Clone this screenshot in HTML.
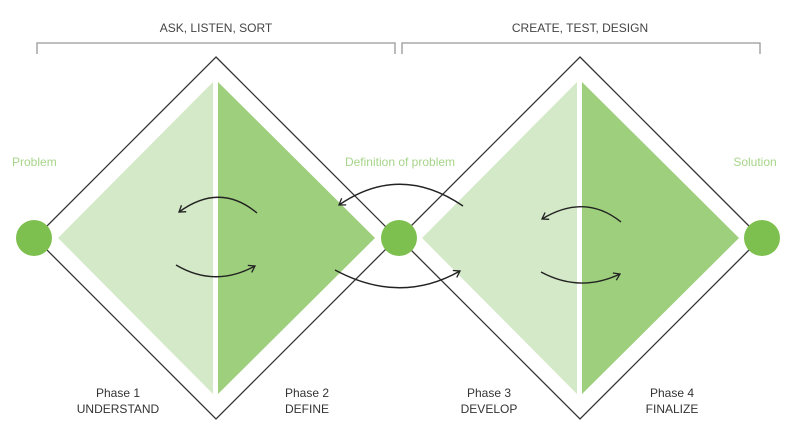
<!DOCTYPE html>
<html><head><meta charset="utf-8"><style>
html,body{margin:0;padding:0;background:#fff;}
svg{display:block;font-family:"Liberation Sans",sans-serif;}
</style></head><body>
<svg width="800" height="445" viewBox="0 0 800 445">
<defs><marker id="ah" markerWidth="10" markerHeight="10" refX="7" refY="5" orient="auto" markerUnits="userSpaceOnUse"><path d="M1,1 L7,5 L1,9" fill="none" stroke="#222" stroke-width="1.3"/></marker></defs>
<g fill="none" stroke="#999" stroke-width="1.3">
<path d="M37,54 V43 H395 V54"/>
<path d="M402,54 V43 H760 V54"/>
</g>
<text x="216" y="32" font-size="12" fill="#444" text-anchor="middle">ASK, LISTEN, SORT</text>
<text x="580" y="32" font-size="12" fill="#444" text-anchor="middle">CREATE, TEST, DESIGN</text>
<g>
<polygon points="216,57 397,238 216,419 35,238" fill="none" stroke="#333" stroke-width="1.3"/>
<polygon points="213,82 213,394 58,238" fill="#d4e9c7"/>
<polygon points="218,82 375,238 218,394" fill="#9dcf7c"/>
</g>
<g>
<polygon points="580,57 761,238 580,419 399,238" fill="none" stroke="#333" stroke-width="1.3"/>
<polygon points="577,82 577,394 422,238" fill="#d4e9c7"/>
<polygon points="582,82 739,238 582,394" fill="#9dcf7c"/>
</g>
<g fill="#7dc04f">
<circle cx="34" cy="238" r="18"/>
<circle cx="399" cy="238" r="18"/>
<circle cx="762" cy="238" r="18"/>
</g>
<g fill="none" stroke="#222" stroke-width="1.4" marker-end="url(#ah)">
<path d="M257,213 Q220,182 179,212"/>
<path d="M176,265 Q215,288 255,266"/>
<path d="M463,206 Q400,163 339,205"/>
<path d="M335,270 Q400,305 460,271"/>
<path d="M621,222 Q585,193 542,219"/>
<path d="M541,272 Q580,293 620,274"/>
</g>
<g font-size="12" fill="#a6d48a">
<text x="12" y="166">Problem</text>
<text x="400" y="166" text-anchor="middle">Definition of problem</text>
<text x="755" y="166" text-anchor="middle">Solution</text>
</g>
<g font-size="12" fill="#333" text-anchor="middle">
<text x="118" y="397"><tspan x="118">Phase 1</tspan><tspan x="118" dy="16">UNDERSTAND</tspan></text>
<text x="307" y="397"><tspan x="307">Phase 2</tspan><tspan x="307" dy="16">DEFINE</tspan></text>
<text x="489" y="397"><tspan x="489">Phase 3</tspan><tspan x="489" dy="16">DEVELOP</tspan></text>
<text x="672" y="397"><tspan x="672">Phase 4</tspan><tspan x="672" dy="16">FINALIZE</tspan></text>
</g>
</svg>
</body></html>
